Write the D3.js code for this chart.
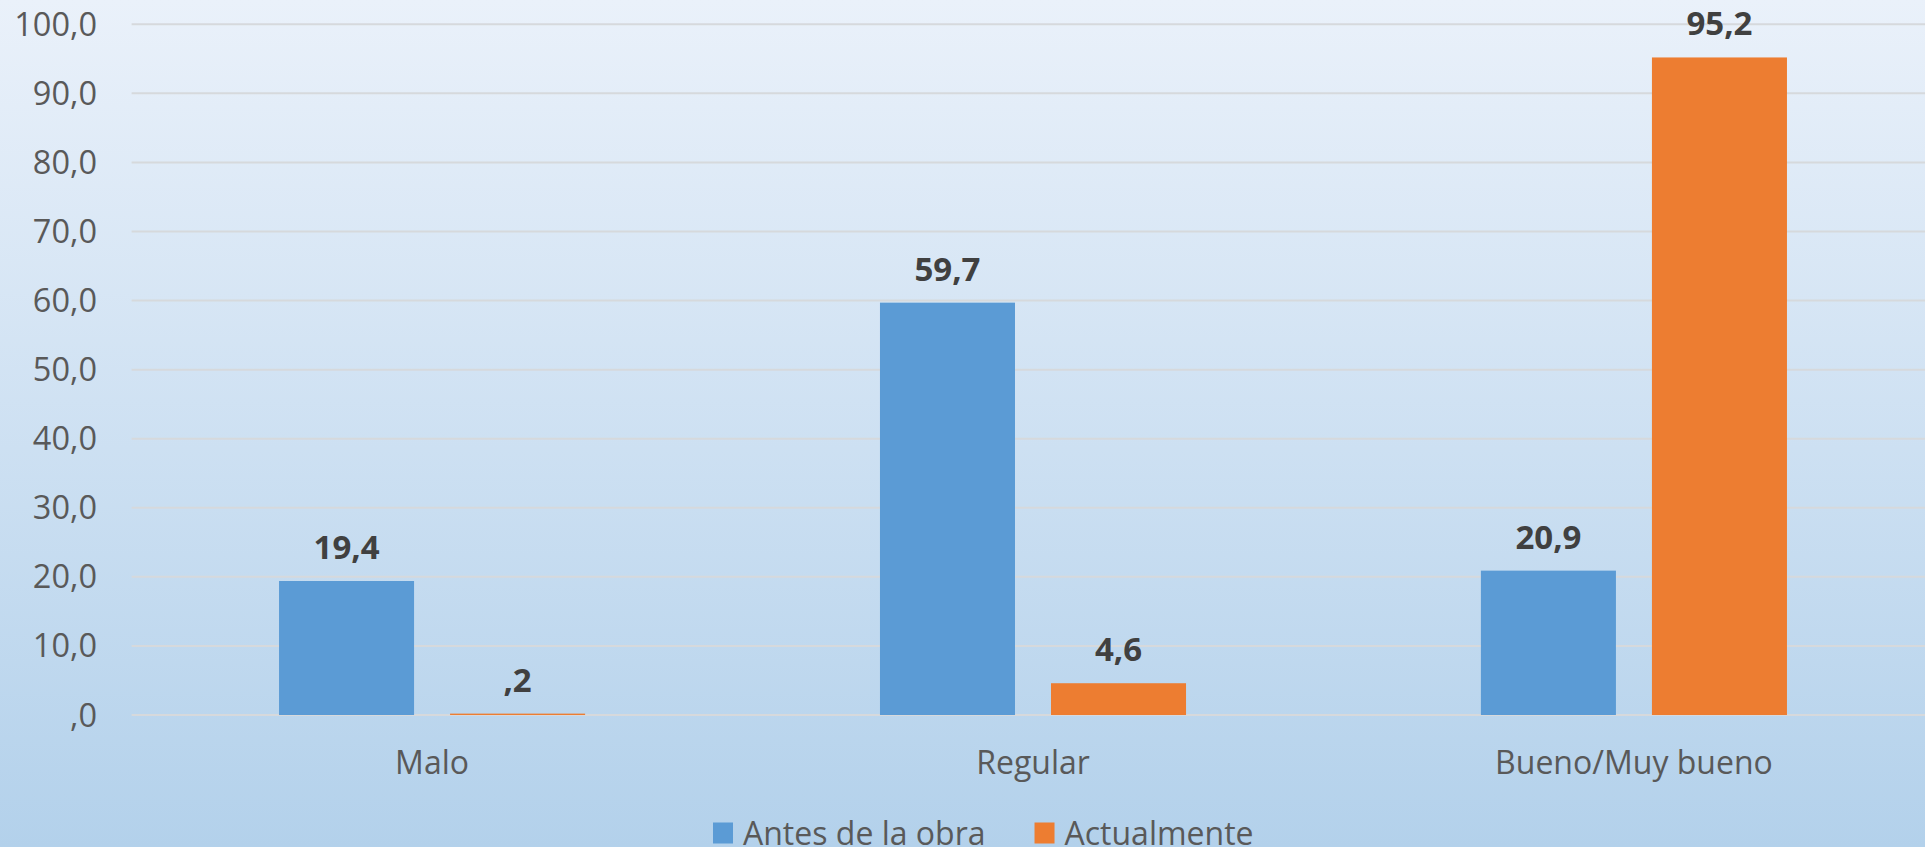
<!DOCTYPE html>
<html>
<head>
<meta charset="utf-8">
<script src="https://cdn.jsdelivr.net/npm/d3@7"></script>
<style>
  html, body { margin: 0; padding: 0; overflow: hidden; }
  svg { display: block; }
</style>
</head>
<body>
<script>
const categories = ["Malo", "Regular", "Bueno/Muy bueno"];
const seriesNames = ["Antes de la obra", "Actualmente"];
const antes = [19.4, 59.7, 20.9];
const actualmente = [0.2, 4.6, 95.2];
const labelsAntes = ["19,4", "59,7", "20,9"];
const labelsActual = [",2", "4,6", "95,2"];
const yTicks = [0, 10, 20, 30, 40, 50, 60, 70, 80, 90, 100];
const yTickLabels = [",0", "10,0", "20,0", "30,0", "40,0", "50,0", "60,0", "70,0", "80,0", "90,0", "100,0"];
const colors = ["#5b9bd5", "#ed7d31"];

const W = 1925, H = 847;
const svg = d3.select("body").append("svg").attr("width", W).attr("height", H);

const defs = svg.append("defs");
const grad = defs.append("linearGradient").attr("id", "bg").attr("x1", 0).attr("y1", 0).attr("x2", 0).attr("y2", 1);
grad.append("stop").attr("offset", "0%").attr("stop-color", "#eaf1fa");
grad.append("stop").attr("offset", "100%").attr("stop-color", "#b3d1eb");
svg.append("rect").attr("width", W).attr("height", H).attr("fill", "url(#bg)");

const plotLeft = 131.6, plotRight = 1934.4;
const y = d3.scaleLinear().domain([0, 100]).range([715, 24.3]);
const x0 = d3.scaleBand().domain(categories).range([plotLeft, plotRight]).padding(0);
const x1 = d3.scaleBand().domain(seriesNames).range([0, x0.bandwidth()])
  .paddingInner(36 / 171).paddingOuter(0.862);

const font = "'Open Sans', Lato, sans-serif";

// gridlines
svg.append("g").selectAll("line").data(yTicks).join("line")
  .attr("x1", plotLeft).attr("x2", plotRight)
  .attr("y1", d => y(d)).attr("y2", d => y(d))
  .attr("stroke", "#d6d9dc").attr("stroke-width", 2);

// y axis labels
svg.append("g").selectAll("text").data(yTicks).join("text")
  .attr("x", 97).attr("y", d => y(d) + 11.5)
  .attr("text-anchor", "end")
  .attr("font-family", font).attr("font-size", 32.5).attr("fill", "#595959")
  .text((d, i) => yTickLabels[i]);

const rows = categories.map((c, i) => ({
  cat: c,
  vals: [
    { s: seriesNames[0], v: antes[i], lab: labelsAntes[i], c: colors[0] },
    { s: seriesNames[1], v: actualmente[i], lab: labelsActual[i], c: colors[1] }
  ]
}));

const groups = svg.append("g").selectAll("g").data(rows).join("g")
  .attr("transform", d => `translate(${x0(d.cat)},0)`);

groups.selectAll("rect").data(d => d.vals).join("rect")
  .attr("x", d => x1(d.s)).attr("width", x1.bandwidth())
  .attr("y", d => y(d.v)).attr("height", d => y(0) - y(d.v))
  .attr("fill", d => d.c);

groups.selectAll("text").data(d => d.vals).join("text")
  .attr("x", d => x1(d.s) + x1.bandwidth() / 2)
  .attr("y", d => y(d.v) - 22)
  .attr("text-anchor", "middle")
  .attr("font-family", font).attr("font-size", 33).attr("font-weight", "bold")
  .attr("fill", "#404040")
  .text(d => d.lab);

// category labels
svg.append("g").selectAll("text").data(categories).join("text")
  .attr("x", d => x0(d) + x0.bandwidth() / 2).attr("y", 774)
  .attr("text-anchor", "middle")
  .attr("font-family", font).attr("font-size", 32).attr("fill", "#595959")
  .text(d => d);

// legend
const legend = svg.append("g");
let lx = 713;
seriesNames.forEach((name, i) => {
  legend.append("rect").attr("x", lx).attr("y", 822.5).attr("width", 20).attr("height", 21).attr("fill", colors[i]);
  const t = legend.append("text").attr("x", lx + 30).attr("y", 845)
    .attr("font-family", font).attr("font-size", 32).attr("fill", "#595959").text(name);
  lx = lx + 30 + t.node().getComputedTextLength() + 49;
});
</script>
</body>
</html>
